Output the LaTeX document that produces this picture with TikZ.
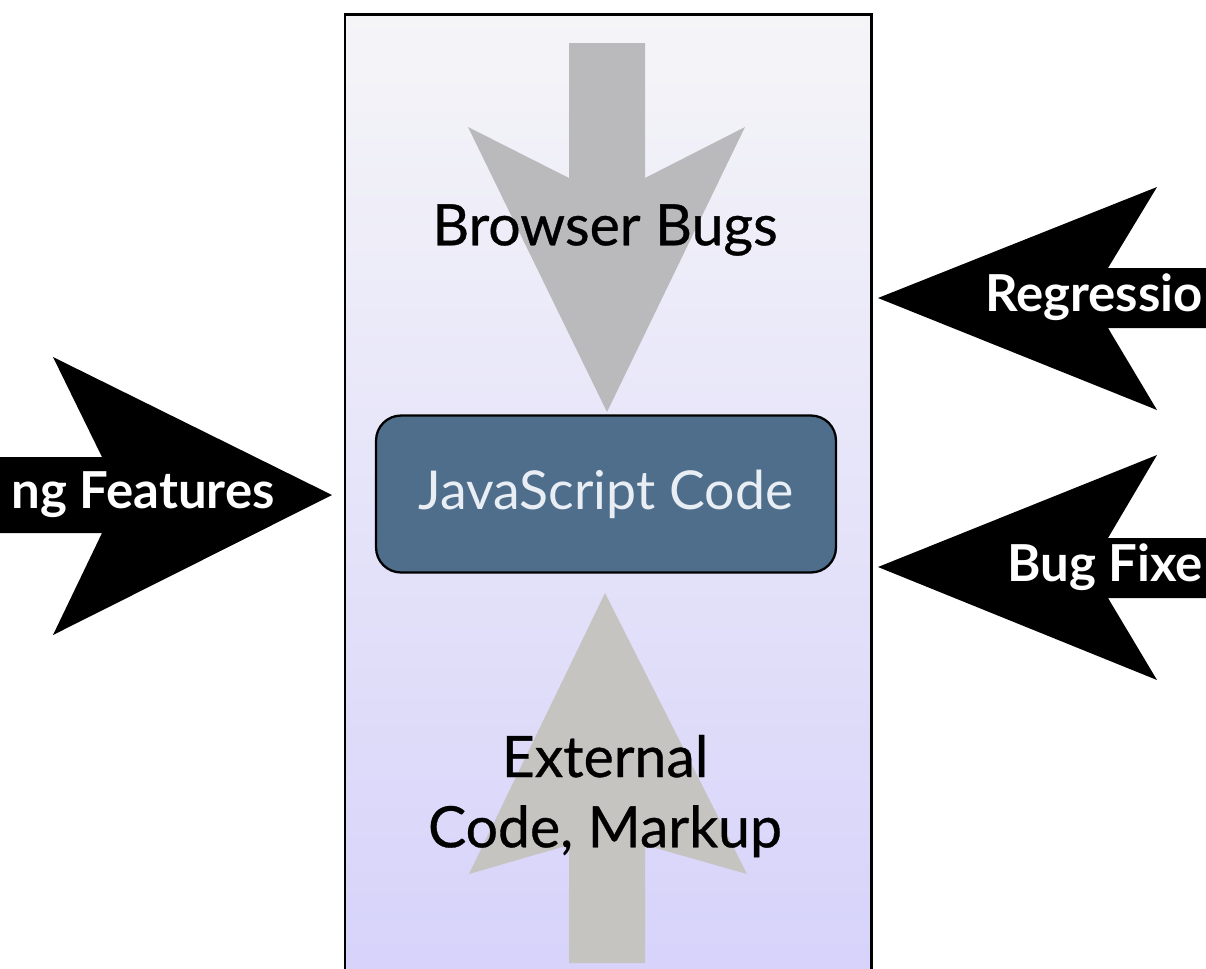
\documentclass[tikz,border=0pt]{standalone}
\usepackage{fontspec}
\setmainfont{Lato}
\newfontfamily\gillish{Lato}[FakeBold=0.6]
\usetikzlibrary{positioning}
\definecolor{frametop}{RGB}{245,245,248}
\definecolor{framebot}{RGB}{214,210,250}
\definecolor{downgray}{RGB}{186,186,188}
\definecolor{upgray}{RGB}{198,196,192}
\definecolor{jsblue}{RGB}{79,110,140}
\definecolor{jstext}{RGB}{232,238,244}
\begin{document}
\begin{tikzpicture}[x=0.02cm,y=-0.02cm,
label/.style={align=center,font=\gillish\fontsize{32.5}{40}\selectfont},
inlabel/.style={text=white,inner sep=0pt,font=\fontsize{29}{40}\selectfont\bfseries},
codebox/.style={draw=black,line width=1.3pt,fill=jsblue,rounded corners=0.5cm,
  minimum width=9.2cm,minimum height=3.14cm,text=jstext,font=\fontsize{30.5}{40}\selectfont},
]
\useasboundingbox(0,0)rectangle(1206,968);
\clip(0,0)rectangle(1206,968);
%frame
\shade[top color=frametop,bottom color=framebot](345,14)rectangle(871,990);
\draw[line width=1.7pt](345,990)--(345,14)--(871,14)--(871,990);
%grey arrows
\fill[downgray](569,43)--(645,43)--(645,178)--(745,127)--(607,412)--(468,127)--(569,178)--cycle;
\fill[upgray](605,593)--(747,874)--(645,845)--(645,963)--(569,963)--(569,845)--(469,874)--cycle;
%black arrows
\fill(0,457)--(102,457)--(53,357)--(332,495)--(53,635)--(102,533)--(0,533)--cycle;
\fill(1206,268)--(1108,268)--(1157,187)--(878,298)--(1157,410)--(1108,328)--(1206,328)--cycle;
\fill(1206,538)--(1108,538)--(1157,455)--(878,567)--(1157,680)--(1108,598)--(1206,598)--cycle;
%code
\node[codebox](jscode)at(606,494){JavaScript Code};
%labels
\node[label](browser)at(605,230){Browser Bugs};
\node[label](external)at(605,796){External\\Code, Markup};
\node[inlabel,anchor=east](features)at(275,495){ng Features};
\node[inlabel,anchor=east](regress)at(1203,297){Regressio};
\node[inlabel,anchor=east](bugfix)at(1203,567){Bug Fixe};
\end{tikzpicture}
\end{document}
